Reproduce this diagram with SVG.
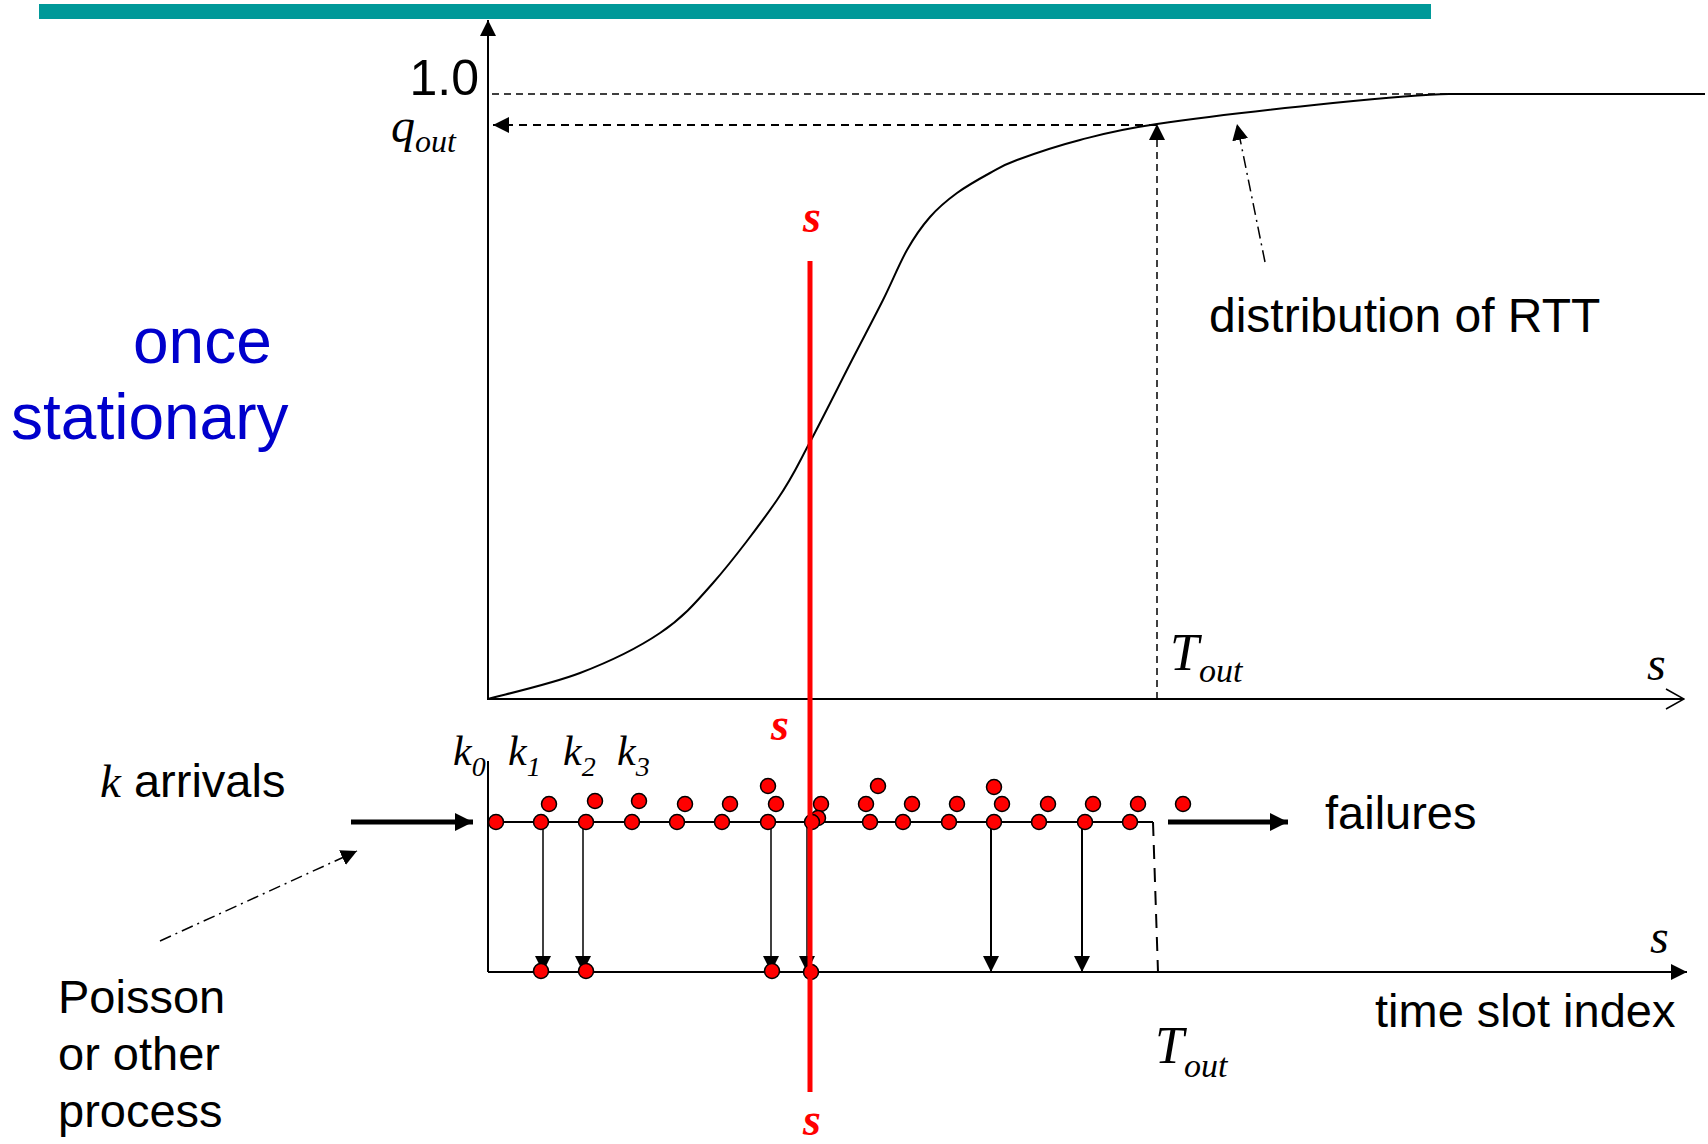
<svg xmlns="http://www.w3.org/2000/svg" width="1708" height="1144" viewBox="0 0 1708 1144">
<style>
.ax{stroke:#000;stroke-width:2;fill:none}
.thin{stroke:#000;stroke-width:1.5;fill:none}
.dash{stroke:#000;stroke-width:1.5;fill:none;stroke-dasharray:7 5}
.dash2{stroke:#000;stroke-width:2;fill:none;stroke-dasharray:8 6}
.dashdot{stroke:#000;stroke-width:1.5;fill:none;stroke-dasharray:12 5 2 5}
.bold{stroke:#000;stroke-width:5;fill:none}
.dot{fill:#FF0000;stroke:#000;stroke-width:1.5}
.sans{font-family:"Liberation Sans",Arial,sans-serif;fill:#000}
.it{font-family:"Liberation Serif","Times New Roman",serif;font-style:italic;fill:#000}
.red{fill:#FF0000;font-weight:bold}
.blue{fill:#0000CC}
</style>
<defs>
<marker id="tri" viewBox="0 0 16 16" markerWidth="16" markerHeight="16" refX="16" refY="8" orient="auto" markerUnits="userSpaceOnUse"><path d="M0,0 L16,8 L0,16 z" fill="#000"/></marker>
<marker id="big" viewBox="0 0 18 18" markerWidth="18" markerHeight="18" refX="18" refY="9" orient="auto" markerUnits="userSpaceOnUse"><path d="M0,0 L18,9 L0,18 z" fill="#000"/></marker>
<marker id="open" viewBox="0 0 20 22" markerWidth="20" markerHeight="22" refX="19" refY="11" orient="auto" markerUnits="userSpaceOnUse"><path d="M1,1 L19,11 L1,21" fill="none" stroke="#000" stroke-width="1.5"/></marker>
</defs>
<rect id="topbar" x="39" y="4" width="1392" height="15" fill="#009999"/>
<g id="axes">
<line class="ax" x1="488" y1="700" x2="488" y2="20" marker-end="url(#tri)"/>
<line class="ax" x1="488" y1="699" x2="1684" y2="699" marker-end="url(#open)"/>
<line class="ax" x1="488" y1="761" x2="488" y2="972"/>
<line class="ax" x1="488" y1="822" x2="1153" y2="822"/>
<line class="ax" x1="488" y1="972" x2="1687" y2="972" marker-end="url(#tri)"/>
</g>
<g id="rtt-curve">
<path class="ax" d="M488,699 C503.3,694.7 551.3,684 580,673 C608.7,662 637.8,648 660,633 C682.2,618 693.5,605.2 713,583 C732.5,560.8 760.8,523.5 777,500 C793.2,476.5 797.5,465.3 810,442 C822.5,418.7 839.8,383.7 852,360 C864.2,336.3 873.8,318.3 883,300 C892.2,281.7 899.2,263.8 907,250 C914.8,236.2 921.7,226.5 930,217 C938.3,207.5 947,200.3 957,193 C967,185.7 980,178.5 990,173 C1000,167.5 1002,165.5 1017,160 C1032,154.5 1056.7,146 1080,140 C1103.3,134 1114.8,130.2 1157,124 C1199.2,117.8 1284.3,108 1333,103 C1381.7,98 1420,94.3 1449,94 L1705,94"/>
</g>
<g id="connectors">
<line class="dash" x1="492" y1="94" x2="1705" y2="94"/>
<line class="dash2" x1="1157" y1="125" x2="493" y2="125" marker-end="url(#tri)"/>
<line class="dash" x1="1157" y1="699" x2="1157" y2="124" marker-end="url(#tri)"/>
<line class="dashdot" x1="1265" y1="262" x2="1237" y2="124" marker-end="url(#tri)"/>
<line class="dashdot" x1="160" y1="941" x2="357" y2="851" marker-end="url(#tri)"/>
<line class="bold" x1="351" y1="822" x2="473" y2="822" marker-end="url(#big)"/>
<line class="bold" x1="1168" y1="822" x2="1288" y2="822" marker-end="url(#big)"/>
<line class="dash2" x1="1153" y1="822" x2="1158" y2="972" style="stroke-dasharray:14 9"/>
<line class="thin" x1="543" y1="822" x2="543" y2="972" marker-end="url(#tri)"/>
<line class="thin" x1="583" y1="822" x2="583" y2="972" marker-end="url(#tri)"/>
<line class="thin" x1="771" y1="822" x2="771" y2="972" marker-end="url(#tri)"/>
<line class="thin" x1="807" y1="822" x2="807" y2="972" marker-end="url(#tri)"/>
<line class="ax" x1="991" y1="822" x2="991" y2="972" marker-end="url(#tri)"/>
<line class="ax" x1="1082" y1="822" x2="1082" y2="972" marker-end="url(#tri)"/>
</g>
<g id="arrivals">
<circle class="dot" cx="496" cy="822" r="7.5"/>
<circle class="dot" cx="549" cy="804" r="7.5"/>
<circle class="dot" cx="541" cy="822" r="7.5"/>
<circle class="dot" cx="595" cy="801" r="7.5"/>
<circle class="dot" cx="586" cy="822" r="7.5"/>
<circle class="dot" cx="639" cy="801" r="7.5"/>
<circle class="dot" cx="632" cy="822" r="7.5"/>
<circle class="dot" cx="685" cy="804" r="7.5"/>
<circle class="dot" cx="677" cy="822" r="7.5"/>
<circle class="dot" cx="730" cy="804" r="7.5"/>
<circle class="dot" cx="722" cy="822" r="7.5"/>
<circle class="dot" cx="768" cy="786" r="7.5"/>
<circle class="dot" cx="776" cy="804" r="7.5"/>
<circle class="dot" cx="768" cy="822" r="7.5"/>
<circle class="dot" cx="821" cy="804" r="7.5"/>
<circle class="dot" cx="818" cy="818" r="7.5"/>
<circle class="dot" cx="812" cy="822" r="7.5"/>
<circle class="dot" cx="878" cy="786" r="7.5"/>
<circle class="dot" cx="866" cy="804" r="7.5"/>
<circle class="dot" cx="870" cy="822" r="7.5"/>
<circle class="dot" cx="912" cy="804" r="7.5"/>
<circle class="dot" cx="903" cy="822" r="7.5"/>
<circle class="dot" cx="957" cy="804" r="7.5"/>
<circle class="dot" cx="949" cy="822" r="7.5"/>
<circle class="dot" cx="994" cy="787" r="7.5"/>
<circle class="dot" cx="1002" cy="804" r="7.5"/>
<circle class="dot" cx="994" cy="822" r="7.5"/>
<circle class="dot" cx="1048" cy="804" r="7.5"/>
<circle class="dot" cx="1039" cy="822" r="7.5"/>
<circle class="dot" cx="1093" cy="804" r="7.5"/>
<circle class="dot" cx="1085" cy="822" r="7.5"/>
<circle class="dot" cx="1138" cy="804" r="7.5"/>
<circle class="dot" cx="1130" cy="822" r="7.5"/>
<circle class="dot" cx="1183" cy="804" r="7.5"/>
<circle class="dot" cx="541" cy="971" r="7.5"/>
<circle class="dot" cx="586" cy="971" r="7.5"/>
<circle class="dot" cx="772" cy="971" r="7.5"/>
<circle class="dot" cx="811" cy="972" r="7.5"/>
</g>
<line id="cut-line" x1="810" y1="261" x2="810" y2="1092" stroke="#FF0000" stroke-width="5"/>
<g id="labels">
<text class="sans" x="479" y="95" font-size="50" text-anchor="end">1.0</text>
<text class="it" x="391" y="142" font-size="48">q<tspan font-size="32" dy="10">out</tspan></text>
<text class="it" x="1170" y="670" font-size="52">T<tspan font-size="34" dy="12">out</tspan></text>
<text class="it" x="1155" y="1063" font-size="52">T<tspan font-size="34" dy="14">out</tspan></text>
<text class="it" x="1647" y="680" font-size="48">s</text>
<text class="it" x="1650" y="953" font-size="48">s</text>
<text class="it red" x="812" y="232" font-size="46" text-anchor="middle">s</text>
<text class="it red" x="780" y="740" font-size="46" text-anchor="middle">s</text>
<text class="it red" x="812" y="1135" font-size="46" text-anchor="middle">s</text>
<text class="sans" x="1209" y="332" font-size="48">distribution of RTT</text>
<text class="sans blue" x="133" y="363" font-size="64">once</text>
<text class="sans blue" x="11" y="439" font-size="64">stationary</text>
<text class="it" x="453" y="765" font-size="42">k<tspan font-size="28" dy="11">0</tspan></text>
<text class="it" x="508" y="765" font-size="42">k<tspan font-size="28" dy="11">1</tspan></text>
<text class="it" x="563" y="765" font-size="42">k<tspan font-size="28" dy="11">2</tspan></text>
<text class="it" x="617" y="765" font-size="42">k<tspan font-size="28" dy="11">3</tspan></text>
<text class="sans" x="100" y="797" font-size="47"><tspan class="it" font-size="47">k</tspan> arrivals</text>
<text class="sans" x="1325" y="829" font-size="47">failures</text>
<text class="sans" x="1375" y="1027" font-size="47">time slot index</text>
<text class="sans" x="58" y="1013" font-size="47">Poisson</text>
<text class="sans" x="58" y="1070" font-size="47">or other</text>
<text class="sans" x="58" y="1127" font-size="47">process</text>
</g>
</svg>
